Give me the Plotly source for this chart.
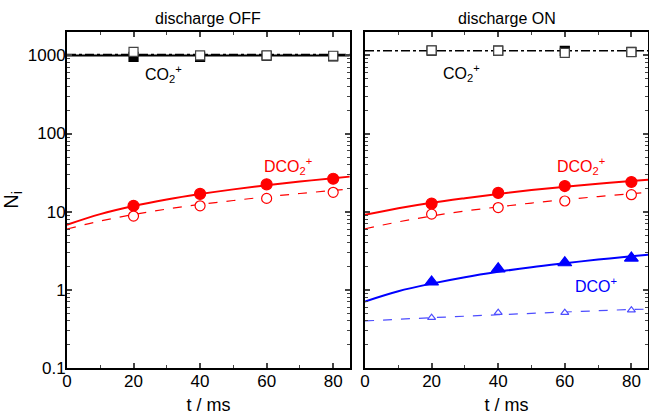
import plotly.graph_objects as go

# ---- data ----
t_pts = [20, 40, 60, 80]
t_fit = [0, 10, 20, 30, 40, 50, 60, 70, 80, 85]
t_line = [0, 85]

off_co2_filled = [960, 960, 990, 970]
off_co2_open = [1110, 1000, 1000, 990]
off_co2_solid = [1000, 1000]
off_co2_dashdot = [1030, 1030]
off_dco2_filled = [11.9, 16.9, 22.4, 26.4]
off_dco2_open = [8.8, 11.9, 14.8, 17.7]
off_dco2_fit = [6.8, 9.3, 11.8, 14.3, 16.8, 19.3, 21.8, 24.3, 26.8, 28.1]
off_dco2_open_fit = [6.0, 7.6, 9.2, 10.8, 12.4, 13.9, 15.5, 17.1, 18.7, 19.5]

on_co2_filled = [1150, 1150, 1140, 1110]
on_co2_open = [1160, 1150, 1080, 1100]
on_co2_dashdot = [1150, 1150]
on_dco2_filled = [12.7, 17.4, 21.3, 24.0]
on_dco2_open = [9.3, 11.3, 13.7, 16.5]
on_dco2_fit = [9.1, 11.05, 13.0, 14.9, 16.9, 18.9, 20.8, 22.8, 24.7, 25.7]
on_dco2_open_fit = [6.05, 7.4, 8.8, 10.2, 11.5, 12.9, 14.3, 15.6, 17.0, 17.7]
on_dco_filled = [1.26, 1.86, 2.22, 2.55]
on_dco_open = [0.44, 0.51, 0.51, 0.55]
on_dco_fit = [0.71, 0.96, 1.20, 1.45, 1.70, 1.95, 2.19, 2.44, 2.69, 2.81]
on_dco_open_fit = [0.40, 0.42, 0.44, 0.46, 0.48, 0.50, 0.52, 0.54, 0.56, 0.566]

y_tickvals = [0.1, 1, 10, 100, 1000]
y_ticktext = ["0.1", "1", "10", "100", "1000"]
x_tickvals = [0, 20, 40, 60, 80]

RED = "#ff0000"
BLUE = "#0000ff"
LBLUE = "#4d4dff"
FONT = "Arial, Liberation Sans, sans-serif"

fig = go.Figure()

def line(x, y, color, width, dash, xa, ya):
    fig.add_trace(go.Scatter(x=x, y=y, mode="lines", line=dict(color=color, width=width, dash=dash, shape="spline"),
                             xaxis=xa, yaxis=ya, showlegend=False, hoverinfo="skip"))

def marks(x, y, color, symbol, size, xa, ya, hollow=False, lw=1.2):
    fig.add_trace(go.Scatter(x=x, y=y, mode="markers",
                             marker=dict(symbol=symbol, size=size, color="white" if hollow else color,
                                         line=dict(color=color, width=lw)),
                             xaxis=xa, yaxis=ya, showlegend=False))

# left panel
line(t_line, off_co2_solid, "black", 2, "solid", "x", "y")
line(t_line, off_co2_dashdot, "black", 1.2, "dashdot", "x", "y")
marks(t_pts, off_co2_filled, "black", "square", 9, "x", "y")
marks(t_pts, off_co2_open, "#444444", "square", 9, "x", "y", hollow=True)
line(t_fit, off_dco2_fit, RED, 2, "solid", "x", "y")
line(t_fit, off_dco2_open_fit, RED, 1.2, "dash", "x", "y")
marks(t_pts, off_dco2_filled, RED, "circle", 11, "x", "y")
marks(t_pts, off_dco2_open, RED, "circle", 10, "x", "y", hollow=True)

# right panel
line(t_line, on_co2_dashdot, "black", 1.5, "dashdot", "x2", "y2")
marks(t_pts, on_co2_filled, "black", "square", 9, "x2", "y2")
marks(t_pts, on_co2_open, "#444444", "square", 9, "x2", "y2", hollow=True)
line(t_fit, on_dco2_fit, RED, 2, "solid", "x2", "y2")
line(t_fit, on_dco2_open_fit, RED, 1.2, "dash", "x2", "y2")
marks(t_pts, on_dco2_filled, RED, "circle", 11, "x2", "y2")
marks(t_pts, on_dco2_open, RED, "circle", 10, "x2", "y2", hollow=True)
line(t_fit, on_dco_fit, BLUE, 2, "solid", "x2", "y2")
line(t_fit, on_dco_open_fit, LBLUE, 1.2, "dash", "x2", "y2")
marks(t_pts, on_dco_filled, BLUE, "triangle-up", 12, "x2", "y2")
marks(t_pts, on_dco_open, LBLUE, "triangle-up", 7, "x2", "y2", hollow=True)

xaxis_common = dict(range=[0, 85], tickvals=x_tickvals, ticks="inside", ticklen=5, tickwidth=1.5,
                    showline=True, linecolor="black", linewidth=1.8, mirror="allticks", automargin=False,
                    showgrid=False, zeroline=False, tickfont=dict(size=17, color="black", family=FONT),
                    ticklabelstandoff=-3,
                    minor=dict(dtick=10, ticks="inside", ticklen=3, tickwidth=1.2, showgrid=False, tick0=0),
                    title=dict(text="t / ms", font=dict(size=18, color="black", family=FONT), standoff=11))
yaxis_common = dict(type="log", range=[-1, 3.3], ticks="inside", ticklen=5, tickwidth=1.5,
                    showline=True, linecolor="black", linewidth=1.8, mirror="allticks", automargin=False,
                    showgrid=False, zeroline=False,
                    minor=dict(ticks="inside", ticklen=3, tickwidth=1, showgrid=False, dtick="D1"),
                    tickfont=dict(size=17, color="black", family=FONT))

fig.update_layout(
    width=649, height=415,
    margin=dict(l=0, r=0, t=0, b=0, autoexpand=False),
    paper_bgcolor="white", plot_bgcolor="white",
    font=dict(family=FONT, color="black"),
    xaxis=dict(domain=[0.1032, 0.539], anchor="y", **xaxis_common),
    xaxis2=dict(domain=[0.5624, 0.9985], anchor="y2", **xaxis_common),
    yaxis=dict(domain=[0.1133, 0.923], anchor="x", tickvals=y_tickvals, ticktext=y_ticktext,
               ticklabelstandoff=-4,
               title=dict(text="N<sub>i</sub>", font=dict(size=20, color="black", family=FONT), standoff=10),
               **yaxis_common),
    yaxis2=dict(domain=[0.1133, 0.923], anchor="x2", tickvals=y_tickvals, showticklabels=False, **yaxis_common),
    showlegend=False,
)

ann_font = dict(size=16, family=FONT)
fig.add_annotation(text="discharge OFF", x=0.5, y=1.0, xref="x domain", yref="y domain", yanchor="bottom",
                   yshift=3, showarrow=False, font=dict(size=16, color="black", family=FONT))
fig.add_annotation(text="discharge ON", x=0.5, y=1.0, xref="x2 domain", yref="y2 domain", yanchor="bottom",
                   yshift=3, showarrow=False, font=dict(size=16, color="black", family=FONT))
fig.add_annotation(text="CO<sub>2</sub><sup>+</sup>", x=29, y=2.76, xref="x", yref="y", showarrow=False,
                   font=dict(color="black", **ann_font))
fig.add_annotation(text="CO<sub>2</sub><sup>+</sup>", x=29, y=2.78, xref="x2", yref="y2", showarrow=False,
                   font=dict(color="black", **ann_font))
fig.add_annotation(text="DCO<sub>2</sub><sup>+</sup>", x=66.5, y=1.58, xref="x", yref="y", showarrow=False,
                   font=dict(color=RED, **ann_font))
fig.add_annotation(text="DCO<sub>2</sub><sup>+</sup>", x=65, y=1.58, xref="x2", yref="y2", showarrow=False,
                   font=dict(color=RED, **ann_font))
fig.add_annotation(text="DCO<sup>+</sup>", x=69.5, y=0.065, xref="x2", yref="y2", showarrow=False,
                   font=dict(color=BLUE, **ann_font))

fig.write_html("out.html", config={"displayModeBar": False},
               post_script="document.body.style.margin='0';document.body.style.padding='0';")
